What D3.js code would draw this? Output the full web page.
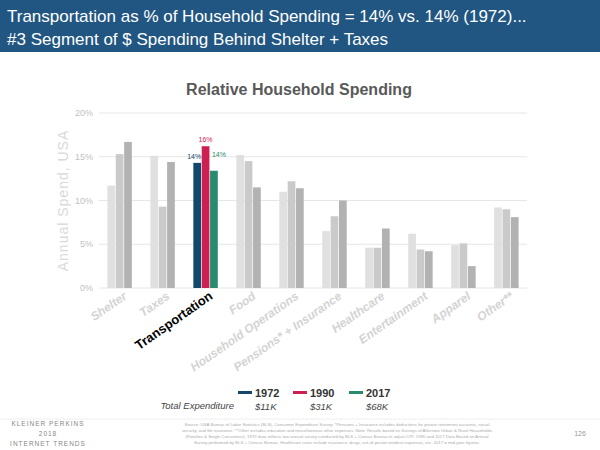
<!DOCTYPE html>
<html><head><meta charset="utf-8">
<script src="https://cdn.jsdelivr.net/npm/d3@7"></script>
<style>body{margin:0;font-family:Arial,"Liberation Sans",sans-serif;}</style>
</head><body><div id="chart"></div>
<script>
const categories = ["Shelter","Taxes","Transportation","Food","Household Operations","Pensions* + Insurance","Healthcare","Entertainment","Apparel","Other**"];
const years = ["1972","1990","2017"];
const v1972 = [11.7,15.1,14.3,15.2,11.0,6.5,4.6,6.2,4.9,9.2];
const v1990 = [15.3,9.3,16.2,14.5,12.2,8.2,4.6,4.4,5.1,9.0];
const v2017 = [16.7,14.4,13.4,11.5,11.4,10.0,6.8,4.2,2.5,8.1];
const transportLabels = ["14%","16%","14%"];
const totals = ["$11K","$31K","$68K"];
const yTicks = [0,5,10,15,20];

const W = 600, H = 450;
const svg = d3.select("#chart").append("svg").attr("width", W).attr("height", H);
svg.append("rect").attr("width", W).attr("height", H).attr("fill", "#fff");

// Header band
svg.append("rect").attr("width", W).attr("height", 52).attr("fill", "#215682");
svg.append("text").attr("x", 7).attr("y", 22).attr("fill", "#fff").attr("font-size", 17)
  .text("Transportation as % of Household Spending = 14% vs. 14% (1972)...");
svg.append("text").attr("x", 7).attr("y", 45).attr("fill", "#fff").attr("font-size", 17)
  .text("#3 Segment of $ Spending Behind Shelter + Taxes");

svg.append("text").attr("x", 299).attr("y", 95).attr("text-anchor", "middle")
  .attr("font-size", 16).attr("font-weight", "bold").attr("fill", "#595959")
  .text("Relative Household Spending");

const x0 = d3.scaleBand().domain(categories).range([99, 527]).paddingInner(0.4).paddingOuter(0.18);
const x1 = d3.scaleBand().domain(years).range([0, x0.bandwidth()]).padding(0.08);
const y = d3.scaleLinear().domain([0, 20]).range([288, 113]);

const grid = svg.append("g");
yTicks.forEach(t => {
  grid.append("line").attr("x1", 99).attr("x2", 527).attr("y1", y(t)).attr("y2", y(t))
    .attr("stroke", "#e6e6e6");
  grid.append("text").attr("x", 93).attr("y", y(t) + 3).attr("text-anchor", "end")
    .attr("font-size", 9).attr("fill", "#bfbfbf").text(t + "%");
});

svg.append("text").attr("transform", `translate(68,${y(10)}) rotate(-90)`).attr("text-anchor", "middle")
  .attr("font-size", 14).attr("fill", "#d9d9d9").attr("letter-spacing", 1).text("Annual Spend, USA");

const series = [v1972, v1990, v2017];
const grays = ["#e0e0e0", "#cacaca", "#b2b2b2"];
const hi = ["#12486b", "#cc1f52", "#2a8a6e"];
categories.forEach((c, i) => {
  const isT = c === "Transportation";
  series.forEach((s, k) => {
    svg.append("rect").attr("x", x0(c) + x1(years[k])).attr("width", x1.bandwidth())
      .attr("y", y(s[i])).attr("height", y(0) - y(s[i]))
      .attr("fill", isT ? hi[k] : grays[k]);
    if (isT) {
      svg.append("text").attr("x", x0(c) + x1(years[k]) + x1.bandwidth() / 2 + (k === 0 ? -3 : k === 2 ? 5 : 0))
        .attr("y", y(s[i]) - (k === 2 ? 14 : 4)).attr("text-anchor", "middle").attr("font-size", 7).attr("fill", hi[k])
        .text(transportLabels[k]);
    }
  });
  const cx = x0(c) + x0.bandwidth() / 2 + 8;
  svg.append("text").attr("transform", `translate(${cx},${y(0) + 10}) rotate(-35)`)
    .attr("text-anchor", "end").attr("font-size", isT ? 13 : 12).attr("font-weight", "bold")
    .attr("font-style", isT ? "normal" : "italic").attr("fill", isT ? "#000" : "#d3d3d3")
    .text(c);
});

// Legend
const lx = [258, 313, 369];
years.forEach((yr, k) => {
  svg.append("rect").attr("x", lx[k] - 20).attr("y", 391).attr("width", 14).attr("height", 3).attr("fill", hi[k]);
  svg.append("text").attr("x", lx[k] - 3).attr("y", 397).attr("font-size", 11).attr("font-weight", "bold")
    .attr("fill", "#333").text(yr);
  svg.append("text").attr("x", lx[k] - 3).attr("y", 410).attr("font-size", 9.5).attr("font-style", "italic")
    .attr("fill", "#444").text(totals[k]);
});
svg.append("text").attr("x", 234).attr("y", 409).attr("text-anchor", "end").attr("font-size", 9.5)
  .attr("font-style", "italic").attr("fill", "#444").text("Total Expenditure");

// Footer
svg.append("line").attr("x1", 0).attr("x2", W).attr("y1", 419).attr("y2", 419).attr("stroke", "#eee");
[["KLEINER PERKINS", 426], ["2018", 436], ["INTERNET TRENDS", 446]].forEach(([t, yy]) =>
  svg.append("text").attr("x", 48).attr("y", yy).attr("text-anchor", "middle").attr("font-size", 6.5)
    .attr("letter-spacing", 1).attr("fill", "#888").text(t));
const notes = [
  "Source: USA Bureau of Labor Statistics (BLS), Consumer Expenditure Survey. *Pensions + Insurance includes deductions for private retirement accounts, social",
  "security, and life insurance. **Other includes education and miscellaneous other expenses. Note: Results based on Surveys of Alternate Urban & Rural Households",
  "(Families & Single Consumers). 1972 data reflects two annual survey conducted by BLS + Census Bureau to adjust CPI. 1990 and 2017 Data Based on Annual",
  "Survey performed by BLS + Census Bureau. Healthcare costs include insurance, drugs, out-of-pocket medical expenses, etc. 2017 = mid-year figures."
];
notes.forEach((t, i) => svg.append("text").attr("x", 337).attr("y", 426 + i * 6).attr("text-anchor", "middle")
  .attr("font-size", 4.3).attr("fill", "#aaa").text(t));
svg.append("text").attr("x", 580).attr("y", 436).attr("text-anchor", "middle").attr("font-size", 7)
  .attr("fill", "#999").text("126");
</script></body></html>
